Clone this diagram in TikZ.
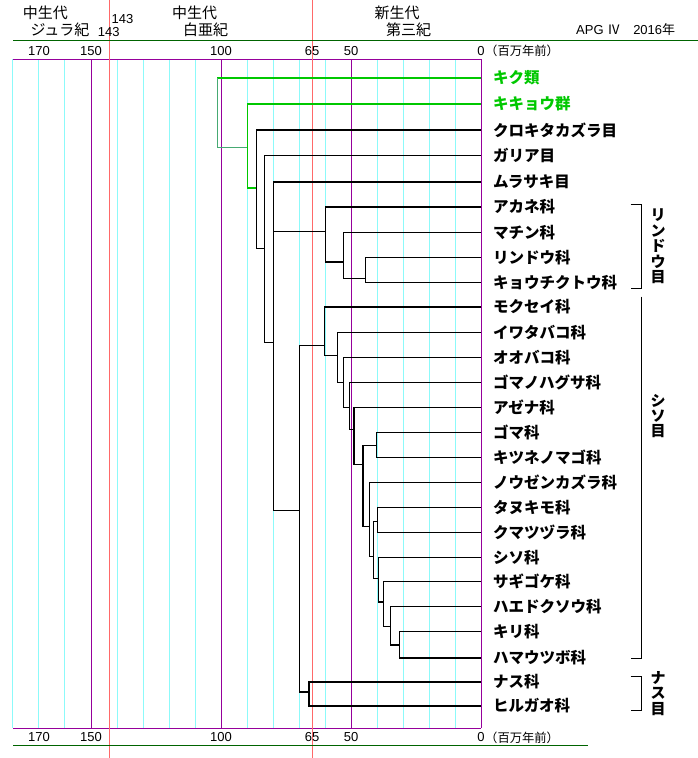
\documentclass[tikz,border=0pt]{standalone}
\usepackage{fontspec}
\setmainfont{Liberation Sans}
\newfontfamily\jp{Noto Sans CJK JP}
\usetikzlibrary{positioning}
\definecolor{gridcyan}{RGB}{140,250,250}
\definecolor{epochpurple}{RGB}{150,0,155}
\definecolor{boundred}{RGB}{255,105,105}
\definecolor{framegreen}{RGB}{0,100,0}
\definecolor{cladegreen}{RGB}{0,200,0}
\definecolor{rootgreen}{RGB}{70,170,115}
\tikzstyle{grid} = [gridcyan, line width=1pt]
\tikzstyle{epoch} = [epochpurple, line width=1pt]
\tikzstyle{bound} = [boundred, line width=0.8pt]
\tikzstyle{frame} = [framegreen, line width=1pt]
\tikzstyle{branch} = [black, line width=1.2pt]
\tikzstyle{bracket} = [black, line width=1pt]
\tikzstyle{tick} = [inner sep=0pt, font=\fontsize{13}{13}\selectfont]
\tikzstyle{unit} = [inner sep=0pt, anchor=west, font=\jp\fontsize{12.3}{13}\selectfont]
\tikzstyle{era} = [inner sep=0pt, font=\jp\fontsize{15}{15}\selectfont]
\tikzstyle{leaf} = [inner sep=0pt, anchor=west, font=\jp\bfseries\fontsize{15.5}{16}\selectfont]
\tikzstyle{order} = [inner sep=0pt, align=center, font=\jp\bfseries\fontsize{15}{15.4}\selectfont]
\begin{document}
\begin{tikzpicture}[x=1pt, y=-1pt]
\useasboundingbox (0,0) rectangle (698,758);
%time scale
\foreach \m in {10,20,...,180} \draw[grid] ({481-2.6*\m},59.3) -- ({481-2.6*\m},728.3);
\foreach \m in {0,50,100,150} \draw[epoch] ({481-2.6*\m},59.3) -- ({481-2.6*\m},728.3);
\draw[epoch] (13,59.3) -- (481,59.3);
\draw[epoch] (13,728.3) -- (481,728.3);
\foreach \m in {65,143} \draw[bound] ({481-2.6*\m},0) -- ({481-2.6*\m},758);
\draw[frame] (13,40.7) -- (698,40.7);
\draw[frame] (13,745) -- (588,745);
\foreach \m in {170,150,100,65,50,0} {
	\node(top\m)[tick] at ({481-2.6*\m},51) {\m};
	\node(bot\m)[tick] at ({481-2.6*\m},737.5) {\m};
}
\node(unittop)[unit] at (485,51) {（百万年前）};
\node(unitbot)[unit] at (485,737.5) {（百万年前）};
%header
\node(jura1)[era] at (45.5,13.3) {中生代};
\node(jura2)[era] at (60,29.3) {ジュラ紀};
\node(age1)[tick] at (122.5,19) {143};
\node(age2)[tick] at (108.7,32.5) {143};
\node(creta1)[era] at (194.5,13.3) {中生代};
\node(creta2)[era] at (205.5,29.3) {白亜紀};
\node(tert1)[era] at (397,13.3) {新生代};
\node(tert2)[era] at (408.5,29.3) {第三紀};
\node(apg)[inner sep=0pt, anchor=west, font=\fontsize{13}{13}\selectfont] at (576,29.3) {APG {\jp Ⅳ}\hspace{13pt}2016{\jp 年}};
%leaves
\coordinate(l0) at (481,78);
\node(kiku)[leaf, text=cladegreen] at (493,78) {キク類};
\coordinate(l1) at (481,104);
\node(kikyou)[leaf, text=cladegreen] at (493,104) {キキョウ群};
\foreach \i/\y/\t in {2/130/クロキタカズラ目, 3/155.5/ガリア目, 4/182/ムラサキ目,
	5/207/アカネ科, 6/232.3/マチン科, 7/257.3/リンドウ科, 8/282.3/キョウチクトウ科,
	9/307/モクセイ科, 10/332.3/イワタバコ科, 11/357.3/オオバコ科, 12/382.3/ゴマノハグサ科,
	13/407.3/アゼナ科, 14/432.3/ゴマ科, 15/457.3/キツネノマゴ科, 16/482.3/ノウゼンカズラ科,
	17/507.3/タヌキモ科, 18/532.3/クマツヅラ科, 19/557.3/シソ科, 20/581.5/サギゴケ科,
	21/606.3/ハエドクソウ科, 22/631.3/キリ科, 23/658/ハマウツボ科, 24/682/ナス科, 25/706/ヒルガオ科} {
	\coordinate(l\i) at (481,\y);
	\node(t\i)[leaf] at (493,\y) {\t};
}
%branch points
\coordinate(nRoot) at (217.3,78);
\coordinate(nG) at (247.3,147.3);
\coordinate(nA) at (256.3,188);
\coordinate(nB) at (264.3,248.3);
\coordinate(nC) at (273.3,342.7);
\coordinate(nG1) at (325.3,231.7);
\coordinate(nG2) at (343.3,262);
\coordinate(nG3) at (365.3,278.3);
\coordinate(nLS) at (299.7,510.3);
\coordinate(nL1) at (324.3,345.3);
\coordinate(nL2) at (337.3,355.3);
\coordinate(nL3) at (343.3,382.3);
\coordinate(nL4) at (349.3,407.3);
\coordinate(nL5) at (354,429.3);
\coordinate(nL6) at (376.3,445.3);
\coordinate(nL7) at (363,464.3);
\coordinate(nL8) at (369.3,526.7);
\coordinate(nL9) at (373.7,556.3);
\coordinate(nL10) at (377.3,521.7);
\coordinate(nL11) at (378.3,578.3);
\coordinate(nL12) at (383.7,602);
\coordinate(nL13) at (390.3,626.3);
\coordinate(nL14) at (399.3,645);
\coordinate(nSol) at (309,692);
%branches
\draw[branch, cladegreen] (l0) -| (nRoot);
\draw[branch, rootgreen] (nRoot) |- (nG);
\draw[branch, cladegreen] (l1) -| (nG) |- (nA);
\draw[branch] (l2) -| (nA) |- (nB);
\draw[branch] (l3) -| (nB) |- (nC);
\draw[branch] (l4) -| (nC) |- (nLS);
\draw[branch] (nC) |- (nG1);
\draw[branch] (l5) -| (nG1) |- (nG2);
\draw[branch] (l6) -| (nG2) |- (nG3);
\draw[branch] (l7) -| (nG3) |- (l8);
\draw[branch] (nL1) -| (nLS) |- (nSol);
\draw[branch] (l9) -| (nL1) |- (nL2);
\draw[branch] (l10) -| (nL2) |- (nL3);
\draw[branch] (l11) -| (nL3) |- (nL4);
\draw[branch] (l12) -| (nL4) |- (nL5);
\draw[branch] (l13) -| (nL5) |- (nL7);
\draw[branch] (nL6) -| (nL7) |- (nL8);
\draw[branch] (l14) -| (nL6) |- (l15);
\draw[branch] (l16) -| (nL8) |- (nL9);
\draw[branch] (nL10) -| (nL9) |- (nL11);
\draw[branch] (l17) -| (nL10) |- (l18);
\draw[branch] (l19) -| (nL11) |- (nL12);
\draw[branch] (l20) -| (nL12) |- (nL13);
\draw[branch] (l21) -| (nL13) |- (nL14);
\draw[branch] (l22) -| (nL14) |- (l23);
\draw[branch] (l24) -| (nSol) |- (l25);
%orders
\draw[bracket] (630.5,204) -- (641.7,204) -- (641.7,288.3) -- (630.5,288.3);
\draw[bracket] (641.7,296.7) -- (641.7,658) -- (630.5,658);
\draw[bracket] (630.5,676) -- (641.7,676) -- (641.7,710) -- (630.5,710);
\node(rindou)[order] at (658,246.5) {リ\\ン\\ド\\ウ\\目};
\node(shiso)[order] at (658,416) {シ\\ソ\\目};
\node(nasu)[order] at (658,693.5) {ナ\\ス\\目};
\end{tikzpicture}
\end{document}
